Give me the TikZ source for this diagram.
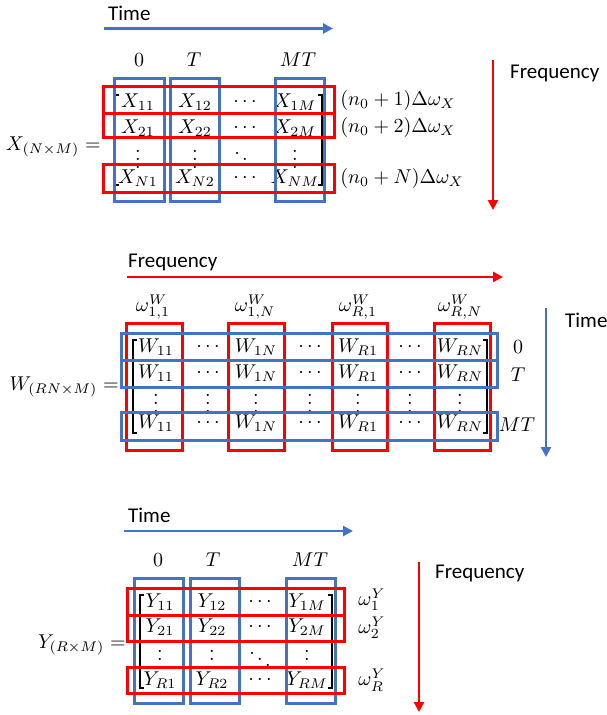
\documentclass[tikz,border=0pt]{standalone}
\usepackage{fontspec}
\newfontfamily\carlito{Carlito}
\usetikzlibrary{arrows.meta}
\definecolor{myblue}{HTML}{4472C4}
\definecolor{myred}{HTML}{FF0000}
\begin{document}
\begin{tikzpicture}[x=1pt,y=-1pt,
  ent/.style={scale=2, inner sep=0pt, anchor=center},
  lhs/.style={scale=2, inner sep=0pt, anchor=east},
  rlab/.style={scale=2, inner sep=0pt, anchor=west},
  word/.style={font=\carlito\fontsize{21}{24}\selectfont, inner sep=0pt, anchor=west},
  bbox/.style={draw=myblue, line width=3pt},
  rbox/.style={draw=myred, line width=3pt},
  barr/.style={draw=myblue, line width=2.5pt, -{Triangle[length=10pt,width=10pt]}},
  rarr/.style={draw=myred, line width=2.5pt, -{Triangle[length=10pt,width=10pt]}},
  brk/.style={line width=1.2pt, line cap=butt}
]
\useasboundingbox (0,0) rectangle (607,715);

% ---------------- X matrix ----------------
\node[word] (xtime) at (108,13) {Time};
\coordinate (xta) at (104,28.5);
\coordinate (xtb) at (333,28.5);
\draw[barr] (xta) -- (xtb);

\node[ent] (xc0) at (139,60) {$0$};
\node[ent] (xc1) at (194,60) {$T$};
\node[ent] (xc2) at (298,60) {$MT$};

\node[lhs] (xlhs) at (101,147) {$X_{(N\times M)}=$};

\foreach \r/\y/\i in {1/102/1, 2/128/2, 4/178/N}{
  \node[ent] (x\r a) at (138,\y) {$X_{\i1}$};
  \node[ent] (x\r b) at (195,\y) {$X_{\i2}$};
  \node[ent] (x\r c) at (245,\y) {$\cdots$};
  \node[ent] (x\r d) at (295,\y) {$X_{\i M}$};
}
\node[ent] (x3a) at (138,153) {$\vdots$};
\node[ent] (x3b) at (195,153) {$\vdots$};
\node[ent] (x3c) at (245,153) {$\ddots$};
\node[ent] (x3d) at (295,153) {$\vdots$};

\draw[brk] (119,95) -- (115,95) -- (115,185) -- (119,185);
\draw[brk] (318,95) -- (322,95) -- (322,185) -- (318,185);

\draw[bbox] (114,78) rectangle (164,201);
\draw[bbox] (170,78) rectangle (219,201);
\draw[bbox] (275,78) rectangle (324,201);
\draw[rbox] (103,86) rectangle (334,113);
\draw[rbox] (103,113) rectangle (334,137);
\draw[rbox] (103,164) rectangle (334,192);

\node[rlab] (xr1) at (340,100) {$(n_0+1)\Delta\omega_X$};
\node[rlab] (xr2) at (340,127) {$(n_0+2)\Delta\omega_X$};
\node[rlab] (xr3) at (340,178) {$(n_0+N)\Delta\omega_X$};

\coordinate (xfa) at (493,60);
\coordinate (xfb) at (493,210);
\draw[rarr] (xfa) -- (xfb);
\node[word] (xfreq) at (510,73) {Frequency};

% ---------------- W matrix ----------------
\node[word] (wfreq) at (128,262) {Frequency};
\coordinate (wfa) at (127,277);
\coordinate (wfb) at (503,277);
\draw[rarr] (wfa) -- (wfb);

\node[ent] (wo1) at (153,307) {$\omega^{W}_{1,1}$};
\node[ent] (wo2) at (255,307) {$\omega^{W}_{1,N}$};
\node[ent] (wo3) at (358,307) {$\omega^{W}_{R,1}$};
\node[ent] (wo4) at (460,307) {$\omega^{W}_{R,N}$};

\node[lhs] (wlhs) at (119,387) {$W_{(RN\times M)}=$};

\foreach \r/\y in {1/347, 2/373, 4/423}{
  \node[ent] (w\r a) at (156,\y) {$W_{11}$};
  \node[ent] (w\r b) at (208,\y) {$\cdots$};
  \node[ent] (w\r c) at (256,\y) {$W_{1N}$};
  \node[ent] (w\r d) at (310,\y) {$\cdots$};
  \node[ent] (w\r e) at (358,\y) {$W_{R1}$};
  \node[ent] (w\r f) at (410,\y) {$\cdots$};
  \node[ent] (w\r g) at (460,\y) {$W_{RN}$};
}
\foreach \c/\x in {a/156, b/208, c/256, d/310, e/358, f/410, g/460}{
  \node[ent] (w3\c) at (\x,397) {$\vdots$};
}

\draw[brk] (137,340) -- (133,340) -- (133,433) -- (137,433);
\draw[brk] (483,340) -- (487,340) -- (487,433) -- (483,433);

\draw[rbox] (126,323) rectangle (182,450);
\draw[rbox] (228,323) rectangle (284,450);
\draw[rbox] (332,323) rectangle (387,450);
\draw[rbox] (434,323) rectangle (490,450);
\draw[bbox] (121,333) rectangle (497,360);
\draw[bbox] (121,360) rectangle (497,387);
\draw[bbox] (121,412) rectangle (497,440);

\node[ent] (wt0) at (518,347) {$0$};
\node[ent] (wt1) at (518,375) {$T$};
\node[ent] (wt2) at (517,425) {$MT$};

\coordinate (wta) at (546,308);
\coordinate (wtb) at (546,457);
\draw[barr] (wta) -- (wtb);
\node[word] (wtime) at (565,320) {Time};

% ---------------- Y matrix ----------------
\node[word] (ytime) at (128,515) {Time};
\coordinate (yta) at (124,531);
\coordinate (ytb) at (353,531);
\draw[barr] (yta) -- (ytb);

\node[ent] (yc0) at (158,560) {$0$};
\node[ent] (yc1) at (213,560) {$T$};
\node[ent] (yc2) at (310,560) {$MT$};

\node[lhs] (ylhs) at (126,645) {$Y_{(R\times M)}=$};

\foreach \r/\y/\i in {1/602/1, 2/627/2, 4/680/R}{
  \node[ent] (y\r a) at (160,\y) {$Y_{\i1}$};
  \node[ent] (y\r b) at (212,\y) {$Y_{\i2}$};
  \node[ent] (y\r c) at (260,\y) {$\cdots$};
  \node[ent] (y\r d) at (307,\y) {$Y_{\i M}$};
}
\node[ent] (y3a) at (160,653) {$\vdots$};
\node[ent] (y3b) at (212,653) {$\vdots$};
\node[ent] (y3c) at (260,653) {$\ddots$};
\node[ent] (y3d) at (307,653) {$\vdots$};

\draw[brk] (144,595) -- (140,595) -- (140,688) -- (144,688);
\draw[brk] (328,595) -- (332,595) -- (332,688) -- (328,688);

\draw[bbox] (134,578) rectangle (183,703);
\draw[bbox] (190,578) rectangle (239,703);
\draw[bbox] (286,578) rectangle (335,703);
\draw[rbox] (127,588) rectangle (344,615);
\draw[rbox] (127,615) rectangle (344,641);
\draw[rbox] (127,667) rectangle (344,693);

\node[ent] (yw1) at (372,600) {$\omega^{Y}_{1}$};
\node[ent] (yw2) at (372,628) {$\omega^{Y}_{2}$};
\node[ent] (yw3) at (372,680) {$\omega^{Y}_{R}$};

\coordinate (yfa) at (419,562);
\coordinate (yfb) at (419,712);
\draw[rarr] (yfa) -- (yfb);
\node[word] (yfreq) at (435,573) {Frequency};
\end{tikzpicture}
\end{document}
